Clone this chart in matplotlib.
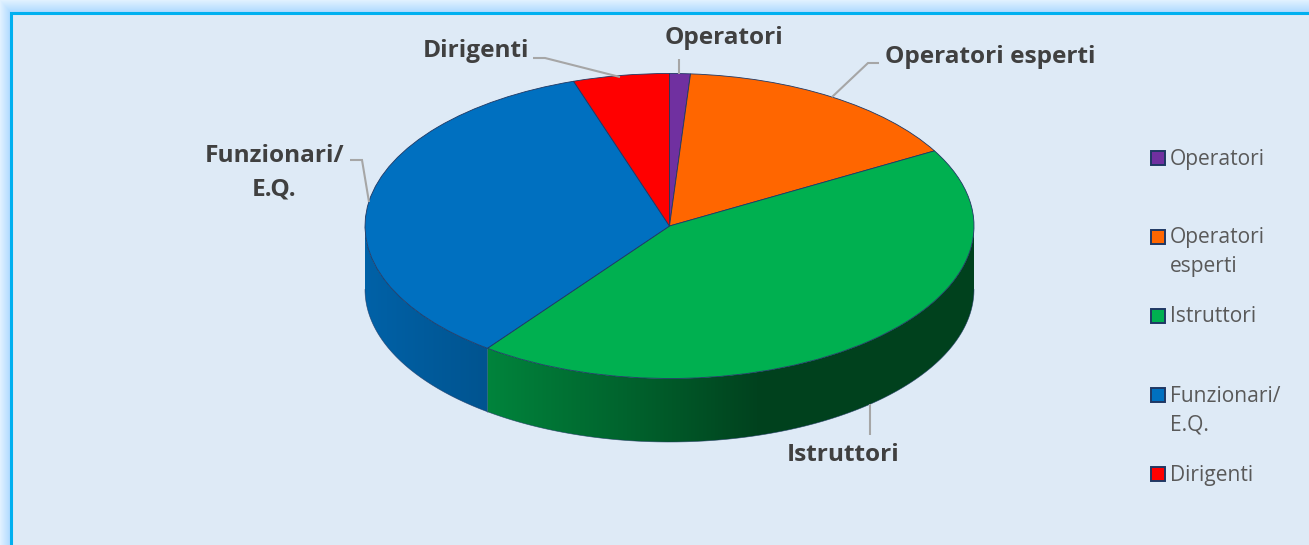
import numpy as np
import matplotlib
matplotlib.use("Agg")
import matplotlib.pyplot as plt
from matplotlib.colors import to_rgb
from matplotlib.patches import Rectangle, Polygon

# ---- data ----
categories = ["Operatori", "Operatori esperti", "Istruttori", "Funzionari/\nE.Q.", "Dirigenti"]
legend_labels = ["Operatori", "Operatori\nesperti", "Istruttori", "Funzionari/\nE.Q.", "Dirigenti"]
values = [1.1, 15.7, 43.4, 34.7, 5.1]
colors = ["#7030A0", "#FF6600", "#00B050", "#0070C0", "#FF0000"]

W, H = 1309, 545
plt.rcParams["font.family"] = ["Open Sans", "DejaVu Sans"]
fig = plt.figure(figsize=(W / 100, H / 100), dpi=100, facecolor="white")

# overlay in pixel coordinates for frame, leaders, text
bg = fig.add_axes([0, 0, 1, 1], zorder=0)
bg.set_xlim(0, W); bg.set_ylim(H, 0); bg.axis("off")

# outer glow (left and top only: the frame runs off the right and bottom edges)
yy, xx = np.mgrid[0:H, 0:W]
dl, dt = np.clip(11 - xx, 0, 11) / 11.0, np.clip(13 - yy, 0, 13) / 13.0
d = np.maximum(dl, dt)
inner, outer = np.array(to_rgb("#A9D8FF")), np.array(to_rgb("#E0F1FF"))
glow = np.ones((H, W, 3))
for c in range(3):
    glow[..., c] = inner[c] + (outer[c] - inner[c]) * d
bg.imshow(glow, extent=(0, W, H, 0), aspect="auto", zorder=0, interpolation="nearest")
bg.set_xlim(0, W); bg.set_ylim(H, 0)
bg.add_patch(Rectangle((11, 13), W + 20, H + 20, facecolor="#DEEAF6", edgecolor="#00B0F0", lw=2.2, zorder=1))

# ---- pie: the axes box holds the top face ellipse plus the wall below it ----
cx, cy, rx, ry, depth = 669.5, 226, 304.5, 152.5, 63.5
pad = 2  # room so edge lines are not cut
d_ax = depth / ry
pad_x, pad_y = pad / rx, pad / ry
ax = fig.add_axes([(cx - rx - pad) / W, 1 - (cy + ry + depth + pad) / H,
                   (2 * rx + 2 * pad) / W, (2 * ry + depth + 2 * pad) / H], zorder=2)
ax.patch.set_alpha(0)
edge = "#1F3864"

# side wall computed from the same values, shaded by a horizontal gradient
fractions = np.array(values) / np.sum(values)
bounds = np.concatenate([[0], np.cumsum(fractions)]) * 2 * np.pi
shade_x = [-1.0, -0.6, -0.06, 0.30, 1.0]
shade_f = [0.87, 0.75, 0.53, 0.37, 0.37]
gx = np.linspace(-1, 1, 1200)
shade = np.interp(gx, shade_x, shade_f)
for i, col in enumerate(colors):
    a0, a1 = max(bounds[i], np.pi / 2), min(bounds[i + 1], 3 * np.pi / 2)
    if a1 <= a0:
        continue
    ts = np.linspace(a0, a1, 300)
    outline = np.vstack([np.column_stack([np.sin(ts), np.cos(ts)]),
                         np.column_stack([np.sin(ts[::-1]), np.cos(ts[::-1]) - d_ax])])
    img = shade[None, :, None] * np.array(to_rgb(col))[None, None, :]
    im = ax.imshow(img, extent=(-1, 1, -1 - d_ax, 1), aspect="auto", zorder=1, interpolation="bilinear")
    clip = Polygon(outline, closed=True, transform=ax.transData, facecolor="none", edgecolor="none")
    ax.add_patch(clip)
    im.set_clip_path(clip)

# outline of the lower edge of the wall
tt = np.linspace(np.pi / 2, 3 * np.pi / 2, 200)
ax.plot(np.sin(tt), np.cos(tt) - d_ax, color=edge, lw=0.5, alpha=0.7, zorder=1.5, clip_on=False)
# seam between side slices
seam = bounds[3]
ax.plot([np.sin(seam)] * 2, [np.cos(seam), np.cos(seam) - d_ax], color=edge, lw=0.4, alpha=0.6, zorder=1.5, clip_on=False)

wedges, _ = ax.pie(values, colors=colors, startangle=90, counterclock=False, radius=1,
                   wedgeprops=dict(edgecolor=edge, linewidth=0.6), frame=False)
for w in wedges:
    w.set_zorder(2); w.set_clip_on(False)
ax.set_aspect("auto")
ax.set_xlim(-1 - pad_x, 1 + pad_x); ax.set_ylim(-1 - d_ax - pad_y, 1 + pad_y)
ax.axis("off")

# ---- overlay with leaders and labels ----
top = fig.add_axes([0, 0, 1, 1], zorder=3)
top.set_xlim(0, W); top.set_ylim(H, 0); top.axis("off"); top.patch.set_alpha(0)

leaders = [
    [(679, 59), (679, 74)],
    [(879, 63), (868, 63), (832, 97)],
    [(870, 404), (870, 435)],
    [(350, 160), (362, 160), (369, 202)],
    [(533, 58), (545, 58), (620, 77)],
]
for pts in leaders:
    xs, ys = zip(*pts)
    top.plot(xs, ys, color="#A6A6A6", lw=1.5, solid_capstyle="butt", solid_joinstyle="miter")

label_pos = [(724, 38), (990, 57), (843.5, 455), (274.5, 173), (476, 51)]
for name, (x, y) in zip(categories, label_pos):
    top.text(x, y, name, ha="center", va="center", fontsize=17.6, fontweight="bold",
             color="#404040", linespacing=1.52)

swatch_y = [158, 236.5, 315.5, 394.5, 474]
for lab, col, y in zip(legend_labels, colors, swatch_y):
    top.add_patch(Rectangle((1151, y - 7), 14, 14, facecolor=col, edgecolor="#1F3864", lw=1.4))
    top.text(1170, y - 9, lab, ha="left", va="top", fontsize=15.1, color="#595959", linespacing=1.47)

fig.savefig("out.png", dpi=100, facecolor=fig.get_facecolor())
